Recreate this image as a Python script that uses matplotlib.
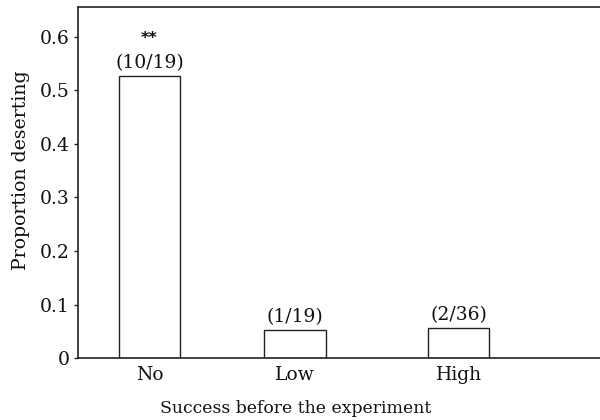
import matplotlib
matplotlib.use("Agg")
import matplotlib.pyplot as plt

categories = ["No", "Low", "High"]
deserted = [10, 1, 2]
totals = [19, 19, 36]
proportions = [d / t for d, t in zip(deserted, totals)]
count_labels = [f"({d}/{t})" for d, t in zip(deserted, totals)]
significance = ["**", "", ""]
yticks = [0, 0.1, 0.2, 0.3, 0.4, 0.5, 0.6]
ytick_labels = ["0", "0.1", "0.2", "0.3", "0.4", "0.5", "0.6"]

positions = [0, 1, 2.124]

plt.rcParams['font.family'] = ['DejaVu Serif']
fig = plt.figure(figsize=(6, 4.2), dpi=100)
ax = fig.add_axes([0.13, 0.1476, 0.87, 0.8357])

ec = "#222222"
tc = "#111111"
ax.bar(positions, proportions, width=0.42, color="white", edgecolor=ec, linewidth=1.0)

for x, p, lab, sig in zip(positions, proportions, count_labels, significance):
    ax.annotate(lab, (x, p), xytext=(0, 3), textcoords="offset points",
                ha="center", va="bottom", fontsize=13.5, color=tc)
    if sig:
        ax.annotate(sig, (x, p), xytext=(0, 22), textcoords="offset points",
                    ha="center", va="bottom", fontsize=11.5, color=tc,
                    fontfamily="DejaVu Sans", fontweight="bold")

ax.set_xlim(-0.491, 3.096)
ax.set_ylim(0, 0.656)
ax.set_xticks(positions)
ax.set_xticklabels(categories, fontsize=13.5, color=tc)
ax.set_yticks(yticks)
ax.set_yticklabels(ytick_labels, fontsize=13.5, color=tc)
ax.tick_params(axis='y', direction='out', length=3, width=1, color=ec, pad=3)
ax.tick_params(axis='x', length=0, pad=6)

for s in ["left", "bottom", "top"]:
    ax.spines[s].set_color(ec)
    ax.spines[s].set_linewidth(1.2)
ax.spines["right"].set_visible(False)

ax.set_ylabel("Proportion deserting", fontsize=13.6, color=tc)
ax.set_xlabel("Success before the experiment", fontsize=12.4, color=tc)
ax.xaxis.set_label_coords(0.416, -0.12)
ax.yaxis.set_label_coords(-0.092, 0.536)

fig.savefig("out.png", dpi=100)
